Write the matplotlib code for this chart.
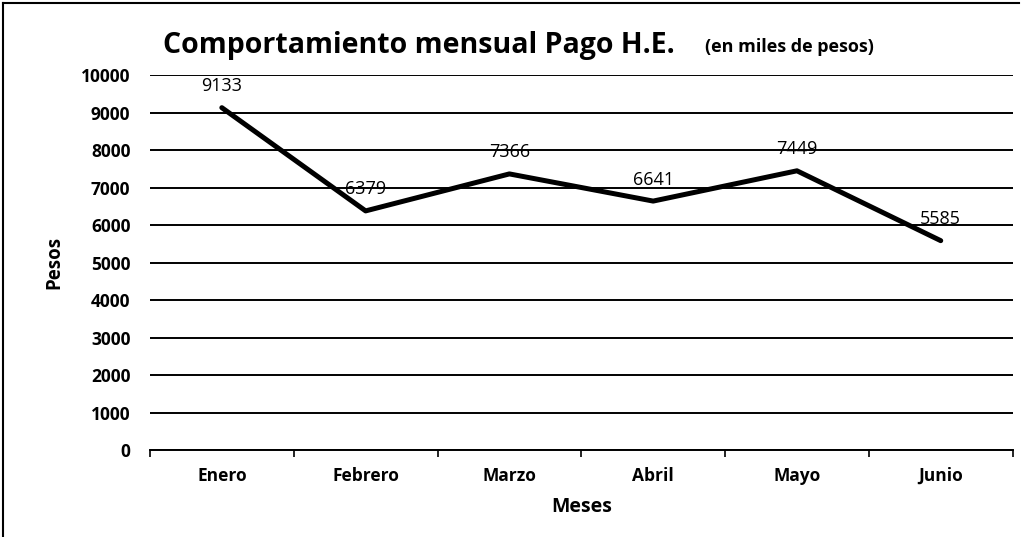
import numpy as np
import matplotlib.pyplot as plt
from matplotlib.lines import Line2D

# ---------------- DATA ----------------
meses = ["Enero", "Febrero", "Marzo", "Abril", "Mayo", "Junio"]
pagos = [9133, 6379, 7366, 6641, 7449, 5585]
y_ticks = list(range(0, 10001, 1000))

plt.rcParams["font.family"] = ["Open Sans", "DejaVu Sans"]

# ---------------- FIGURE ----------------
fig = plt.figure(figsize=(10.27, 5.37), dpi=100)
ax = fig.add_axes([0.146, 0.162, 0.840, 0.698])

x = np.arange(len(meses))
ax.plot(x, pagos, color="black", linewidth=3.6, solid_capstyle="round", zorder=3)

for xi, v in zip(x, pagos):
    ax.annotate(str(v), (xi, v), xytext=(0, 9), textcoords="offset points",
                ha="center", va="bottom", fontsize=13, color="black")

ax.set_xlim(-0.5, len(meses) - 0.5)
ax.set_ylim(0, 10000)
ax.set_yticks(y_ticks)
ax.set_yticklabels([str(t) for t in y_ticks], fontsize=12.5, fontweight="bold")
ax.yaxis.grid(True, color="black", linewidth=1.4)
ax.set_axisbelow(True)

# category ticks sit between the months
ax.set_xticks(np.arange(-0.5, len(meses)), minor=False)
ax.set_xticklabels([""] * (len(meses) + 1))
ax.set_xticks(x, minor=True)
ax.set_xticklabels(meses, minor=True, fontsize=12.5, fontweight="bold")
ax.tick_params(axis="x", which="major", length=5, width=1.2, direction="out")
ax.tick_params(axis="x", which="minor", length=0, pad=12)
ax.tick_params(axis="y", length=0, pad=14)

for side in ["top", "right", "left"]:
    ax.spines[side].set_visible(False)
ax.spines["bottom"].set_linewidth(1.4)

ax.set_xlabel("Meses", fontsize=14, fontweight="bold", labelpad=9)
ax.set_ylabel("Pesos", fontsize=13.5, fontweight="bold", labelpad=12)

fig.text(0.159, 0.915, "Comportamiento mensual Pago H.E.", fontsize=20.5,
         fontweight="bold", ha="left", va="center")
fig.text(0.686, 0.912, "(en miles de pesos)", fontsize=13,
         fontweight="bold", ha="left", va="center")

# frame of the scanned chart
fig.add_artist(Line2D([0.003, 0.992], [0.994, 0.994], color="black", linewidth=1.5))
fig.add_artist(Line2D([0.003, 0.003], [0.0, 0.994], color="black", linewidth=1.5))

fig.savefig("out.png", dpi=100)
